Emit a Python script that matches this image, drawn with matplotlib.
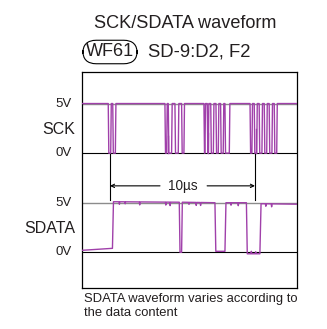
import numpy as np
import matplotlib
matplotlib.use('Agg')
from matplotlib import pyplot as plt
from matplotlib.transforms import blended_transform_factory

plt.rcParams['font.family'] = ['Liberation Sans', 'DejaVu Sans']

# SCK low pulses (fall, rise) in microseconds
sck_fall = [-0.12, 0.19,
            3.79, 4.02, 4.48, 4.94,
            6.48, 6.71, 6.95, 7.31, 7.63, 7.93,
            9.66, 9.95, 10.29, 10.64, 10.98, 11.33]
sck_rise = [0.05, 0.37,
            3.91, 4.25, 4.71, 5.10,
            6.55, 6.78, 7.13, 7.47, 7.81, 8.23,
            9.79, 10.12, 10.48, 10.81, 11.17, 11.50]
# short partial glitches seen on SCK (time, top voltage)
sck_glitch_t = [4.0, 6.75, 10.05]
sck_glitch_v = [1.7, 2.0, 2.4]

# SDATA breakpoints (time in us, volts)
sdata_t = [-1.93, 0.17, 0.24, 4.78, 4.83, 4.94, 4.99, 7.24, 7.30, 7.93, 8.00,
           9.41, 9.47, 10.34, 10.42, 12.9]
sdata_v = [0.2, 0.4, 5.1, 5.05, 0.0, 0.0, 5.05, 5.0, 0.1, 0.1, 5.0,
           5.0, -0.15, -0.15, 4.9, 4.85]
# small ripples on SDATA (time, offset in volts)
ripple_t = [0.65, 1.05, 2.05, 3.85, 4.15, 5.45, 5.95, 6.25, 8.35, 8.85,
            9.75, 10.05, 10.75, 11.15]
ripple_d = [-0.25, -0.2, -0.3, -0.3, -0.35, -0.2, -0.3, -0.3, -0.25, -0.3,
            0.25, 0.2, -0.25, -0.3]

OFFSET = 10.0
XMIN, XMAX = -1.93, 12.9
PURPLE = '#a040aa'
TXT = '#231f20'

# build SCK trace from edges
dt = 0.04
t_sck = [XMIN]
v_sck = [5.0]
for f, r in zip(sck_fall, sck_rise):
    t_sck += [f, f + dt, r, r + dt]
    v_sck += [5.0, 0.0, 0.0, 5.0]
t_sck.append(XMAX)
v_sck.append(5.0)

# build SDATA trace with ripples
pts = list(zip(sdata_t, sdata_v))
for t, d in zip(ripple_t, ripple_d):
    base = np.interp(t, sdata_t, sdata_v)
    pts += [(t - 0.03, base), (t, base + d), (t + 0.03, base)]
pts.sort()
t_sd = [p[0] for p in pts]
v_sd = [p[1] for p in pts]

fig = plt.figure(figsize=(3.27, 3.29), dpi=100)
ax = fig.add_axes([82/327, 1 - 288/329, 215/327, 216/329])
ax.set_xlim(XMIN, XMAX)
ax.set_ylim(-3.6, 18.18)

for base in (0, OFFSET):
    ax.axhline(base + 5, color='#8c8c8c', lw=1.0, zorder=1)
    ax.axhline(base, color='black', lw=0.8, zorder=1)

ax.plot(t_sck, np.array(v_sck) + OFFSET, color=PURPLE, lw=1.0, zorder=3)
for t, v in zip(sck_glitch_t, sck_glitch_v):
    ax.plot([t, t], [OFFSET, OFFSET + v], color=PURPLE, lw=1.0, zorder=3)
ax.plot(t_sd, v_sd, color=PURPLE, lw=1.0, zorder=3)

# 10us marker
for t in (0, 10):
    ax.plot([t, t], [OFFSET, 5.3], color='black', lw=0.8, zorder=2)
ymark = OFFSET - 3.3
ax.text(5, ymark, '10\u00b5s', ha='center', va='center', fontsize=9.8, color=TXT)
ax.annotate('', xy=(0, ymark), xytext=(3.45, ymark),
            arrowprops=dict(arrowstyle='->', lw=0.8, color='black',
                            shrinkA=0, shrinkB=0, mutation_scale=6))
ax.annotate('', xy=(10, ymark), xytext=(6.7, ymark),
            arrowprops=dict(arrowstyle='->', lw=0.8, color='black',
                            shrinkA=0, shrinkB=0, mutation_scale=6))

ax.set_xticks([])
ax.set_yticks([])
for s in ax.spines.values():
    s.set_linewidth(0.9)

# left labels
tr = blended_transform_factory(fig.transFigure, ax.transData)
for base, name in ((OFFSET, 'SCK'), (0, 'SDATA')):
    fig.text(72/327, base + 5, '5V', transform=tr, ha='right', va='center',
             fontsize=9.5, color=TXT)
    fig.text(72/327, base, '0V', transform=tr, ha='right', va='center',
             fontsize=9.5, color=TXT)
    fig.text(75/327, base + 2.4, name, transform=tr, ha='right', va='center',
             fontsize=11.5, color=TXT)

fig.text(185/327, 1 - 23/329, 'SCK/SDATA waveform', ha='center', va='center',
         fontsize=13.1, color=TXT)
fig.text(110/327, 1 - 52/329, 'WF61', ha='center', va='center', fontsize=13,
         color=TXT, bbox=dict(boxstyle='round,pad=0.18,rounding_size=0.75',
                              fc='white', ec='black', lw=0.8))
fig.text(148/327, 1 - 52/329, 'SD-9:D2, F2', ha='left', va='center',
         fontsize=13.3, color=TXT)
fig.text(84/327, 1 - 299/329, 'SDATA waveform varies according to',
         ha='left', va='center', fontsize=9.4, color=TXT)
fig.text(84/327, 1 - 313/329, 'the data content',
         ha='left', va='center', fontsize=9.4, color=TXT)

fig.savefig('out.png', dpi=100)
